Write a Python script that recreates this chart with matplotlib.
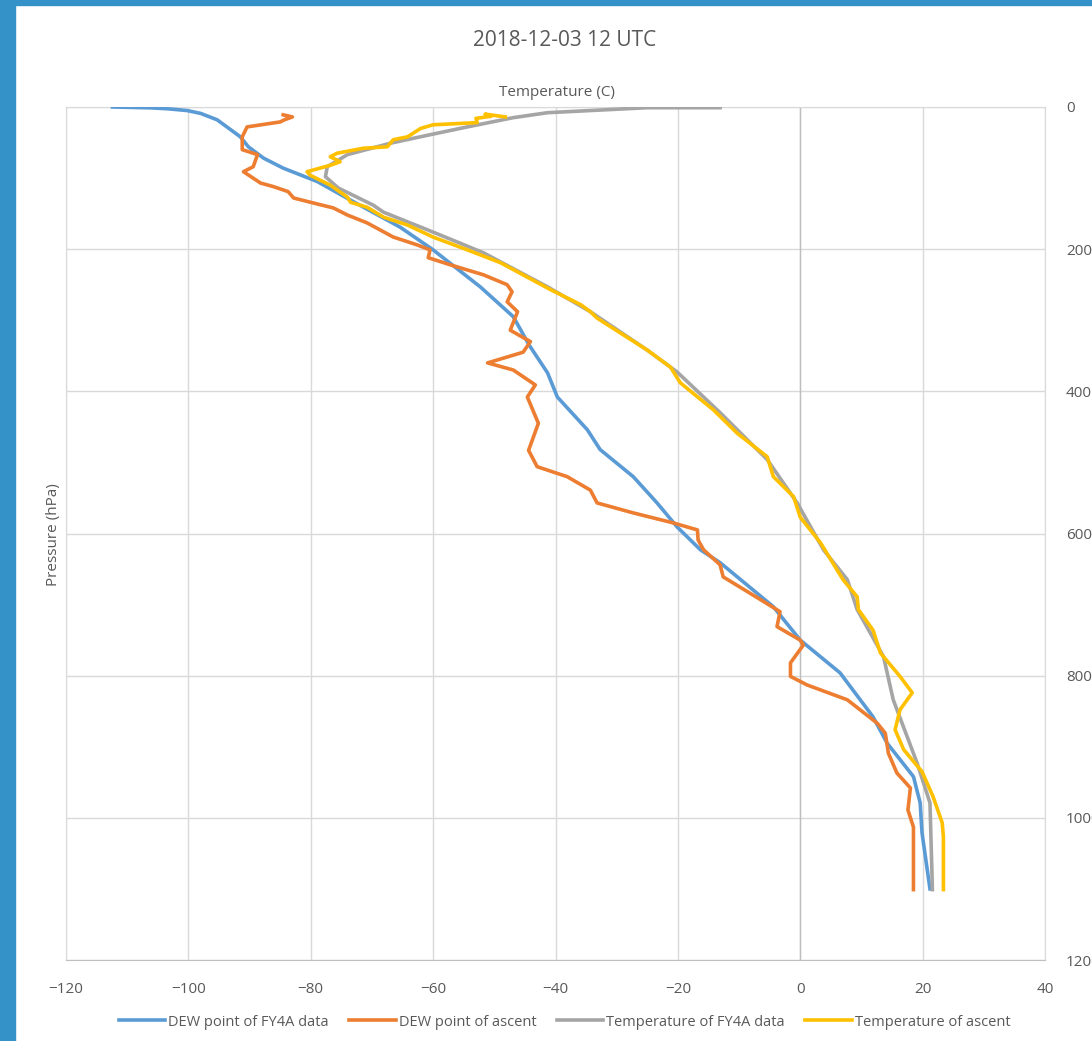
import matplotlib.pyplot as plt
from matplotlib.patches import Rectangle

# values (temperature in C, pressure in hPa)
dew_fy4a_t = [-112.4, -106.2, -103.4, -100.2, -98.0, -95.3, -92.6, -91.5, -90.2, -87.7,
              -84.5, -78.9, -73.5, -65.4, -60.0, -52.3, -46.9, -44.3, -41.3, -39.7,
              -34.8, -32.7, -27.3, -23.4, -20.1, -16.3, -13.1, -4.4, 0.0, 6.5,
              11.9, 14.2, 18.5, 19.6, 19.9, 21.2]
dew_fy4a_p = [0, 1.2, 2.5, 5, 9, 18, 35, 42, 56, 72,
              86, 105, 131, 169, 201, 253, 295, 335, 374, 408,
              454, 482, 520, 557, 591, 623, 641, 703, 750, 796,
              858, 895, 942, 979, 1021, 1100]

dew_asc_t = [-84.5, -83.0, -84.3, -85.0, -90.4, -91.2, -91.2, -88.7, -89.4, -91.0,
             -88.2, -86.1, -83.7, -82.8, -79.6, -76.3, -74.0, -70.8, -66.5, -62.6,
             -60.5, -60.8, -57.2, -51.8, -47.9, -47.1, -47.9, -46.2, -47.4, -44.1,
             -45.3, -51.1, -46.9, -43.3, -44.6, -42.8, -44.4, -43.0, -38.1, -34.3,
             -33.2, -27.3, -20.8, -16.8, -16.7, -15.8, -13.1, -12.6, -6.5, -3.3,
             -3.8, 0.0, 0.5, -1.6, -1.6, 1.1, 7.7, 12.6, 13.9, 14.4,
             15.8, 18.0, 17.6, 18.5, 18.5]
dew_asc_p = [11, 14, 18, 21, 28, 42, 60, 67, 84, 91,
             107, 112, 119, 128, 135, 142, 152, 163, 183, 194,
             201, 212, 222, 236, 250, 260, 274, 288, 314, 330,
             345, 360, 370, 391, 408, 445, 483, 506, 520, 539,
             557, 571, 585, 595, 609, 623, 644, 661, 693, 710,
             731, 750, 757, 782, 801, 813, 834, 867, 881, 909,
             937, 958, 989, 1013, 1101]

temp_fy4a_t = [-13.1, -25.0, -41.3, -46.9, -54.4, -60.5, -67.0, -74.0, -77.3, -77.6,
               -75.5, -69.8, -68.1, -60.0, -51.8, -41.3, -34.3, -25.0, -20.1, -13.1,
               -5.4, -0.5, 3.8, 7.7, 9.3, 13.6, 15.2, 19.1, 21.2, 21.6]
temp_fy4a_p = [1, 1, 8, 15, 28, 39, 51, 67, 84, 98,
               114, 138, 148, 176, 205, 253, 288, 342, 373, 430,
               496, 557, 623, 665, 707, 773, 834, 923, 979, 1101]

temp_asc_t = [-48.2, -51.5, -50.5, -53.0, -52.8, -60.0, -62.0, -64.2, -66.5, -67.5,
              -71.4, -75.7, -76.8, -75.2, -76.8, -80.6, -80.1, -76.8, -74.0, -73.5,
              -70.8, -68.1, -64.2, -60.0, -54.4, -49.0, -40.8, -35.9, -34.3, -33.2,
              -25.0, -21.2, -19.6, -14.2, -10.3, -5.4, -4.4, -1.1, 0.0, 3.3,
              7.0, 9.3, 9.5, 11.9, 13.1, 16.3, 18.3, 16.3, 15.5, 16.9,
              19.9, 21.7, 23.2, 23.4, 23.4]
temp_asc_p = [14, 10, 13, 16, 22, 25, 30, 42, 46, 56,
              58, 65, 70, 77, 82, 91, 96, 110, 127, 134,
              141, 155, 166, 183, 201, 219, 257, 278, 288, 297,
              342, 366, 388, 426, 459, 492, 520, 548, 577, 613,
              665, 689, 707, 736, 768, 801, 824, 848, 876, 904,
              935, 970, 1007, 1027, 1101]

x_ticks = list(range(-120, 41, 20))
y_ticks = list(range(0, 1201, 200))

plt.rcParams['font.family'] = ['Open Sans', 'DejaVu Sans']
txt = '#595959'

fig = plt.figure(figsize=(10.92, 10.41), dpi=100)
# blue frame of the screenshot
fig.patches.append(Rectangle((0, 0), 15 / 1092, 1, transform=fig.transFigure,
                             color='#3592C8', zorder=0))
fig.patches.append(Rectangle((0, 1 - 5 / 1041), 1, 5 / 1041, transform=fig.transFigure,
                             color='#3592C8', zorder=0))

ax = fig.add_axes([66 / 1092, 1 - 960 / 1041, (1045 - 66) / 1092, (960 - 107) / 1041])

lw = 2.6
ax.plot(dew_fy4a_t, dew_fy4a_p, color='#5B9BD5', lw=lw, solid_joinstyle='round',
        label='DEW point of FY4A data', zorder=3)
ax.plot(dew_asc_t, dew_asc_p, color='#ED7D31', lw=lw, solid_joinstyle='round',
        label='DEW point of ascent', zorder=3)
ax.plot(temp_fy4a_t, temp_fy4a_p, color='#A5A5A5', lw=lw, solid_joinstyle='round',
        label='Temperature of FY4A data', zorder=3)
ax.plot(temp_asc_t, temp_asc_p, color='#FFC000', lw=lw, solid_joinstyle='round',
        label='Temperature of ascent', zorder=3)

ax.set_xlim(-120, 40)
ax.set_ylim(1200, 0)
ax.set_xticks(x_ticks)
ax.set_yticks(y_ticks)
ax.grid(True, color='#D9D9D9', lw=1)
ax.set_axisbelow(True)
ax.axvline(0, color='#BFBFBF', lw=1, zorder=1)
for side in ['top', 'left', 'right']:
    ax.spines[side].set_color('#D9D9D9')
ax.spines['bottom'].set_color('#BFBFBF')

ax.yaxis.tick_right()
ax.tick_params(axis='both', length=0, labelsize=11, labelcolor=txt)
ax.tick_params(axis='x', pad=16)
ax.tick_params(axis='y', pad=15)
for lab in ax.get_yticklabels():
    lab.set_horizontalalignment('left')

fig.text(0.517, 1 - 40 / 1041, '2018-12-03 12 UTC', ha='center', va='center',
         fontsize=15, color=txt)
fig.text(0.51, 1 - 93 / 1041, 'Temperature (C)', ha='center', va='center',
         fontsize=11, color=txt)
fig.text(53 / 1092, 1 - 535 / 1041, 'Pressure (hPa)', ha='center', va='center',
         rotation=90, fontsize=11, color=txt)

fig.legend(loc='center', bbox_to_anchor=(0.517, 1 - 1022 / 1041), ncol=4,
           frameon=False, fontsize=10.5, handlelength=3.2, handletextpad=0.2,
           columnspacing=1.4, labelcolor=txt)

fig.savefig('out.png', dpi=100)
